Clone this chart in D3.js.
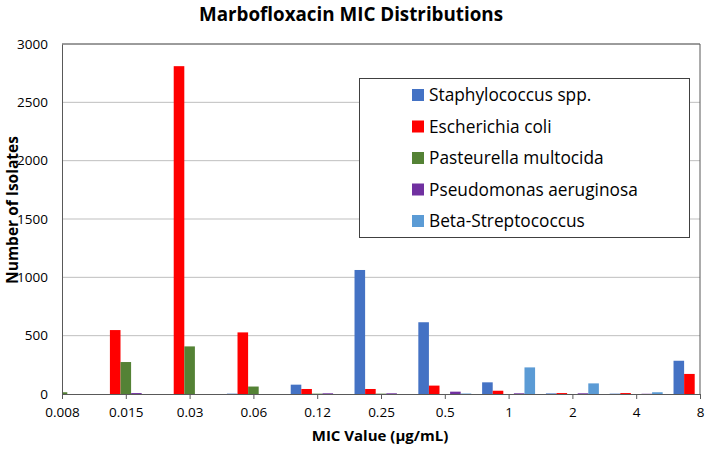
<!DOCTYPE html>
<html>
<head>
<meta charset="utf-8">
<script src="https://cdn.jsdelivr.net/npm/d3@7"></script>
<style>
  body { margin: 0; background: #fff; }
  svg { display: block; font-family: "Open Sans", sans-serif; }
</style>
</head>
<body>
<svg id="chart" width="709" height="449"></svg>
<script>
const categories = ["0.008", "0.015", "0.03", "0.06", "0.12", "0.25", "0.5", "1", "2", "4", "8"];
const seriesNames = ["Staphylococcus spp.", "Escherichia coli", "Pasteurella multocida", "Pseudomonas aeruginosa", "Beta-Streptococcus"];
const staphylococcus = [0, 0, 0, 3, 80, 1063, 615, 100, 5, 3, 285];
const escherichia = [0, 548, 2810, 528, 43, 43, 72, 28, 8, 8, 172];
const pasteurella = [15, 274, 408, 64, 3, 3, 0, 0, 0, 0, 0];
const pseudomonas = [0, 8, 0, 0, 6, 6, 20, 6, 6, 2, 0];
const betaStrep = [0, 0, 0, 0, 0, 0, 4, 228, 91, 15, 0];
const yTicks = [0, 500, 1000, 1500, 2000, 2500, 3000];
const colors = ["#4472C4", "#FF0000", "#548235", "#7030A0", "#5B9BD5"];

const seriesValues = [staphylococcus, escherichia, pasteurella, pseudomonas, betaStrep];

const svg = d3.select("#chart");
const L = 62, R = 700, T = 44, B = 394;
const step = (R - L) / (categories.length - 1);

const x0 = d3.scaleBand()
  .domain(categories)
  .range([L - step / 2, R + step / 2])
  .paddingInner(0.17)
  .paddingOuter(0.085);
const x1 = d3.scaleBand()
  .domain(seriesNames)
  .range([0, x0.bandwidth()]);
const y = d3.scaleLinear().domain([0, 3000]).range([B, T]);

// clip
svg.append("defs").append("clipPath").attr("id", "plotclip")
  .append("rect").attr("x", L).attr("y", T - 1).attr("width", R - L).attr("height", B - T + 2);

// gridlines
svg.append("g")
  .selectAll("line")
  .data(yTicks.filter(d => d > 0))
  .join("line")
  .attr("x1", L).attr("x2", R)
  .attr("y1", d => y(d)).attr("y2", d => y(d))
  .attr("stroke", "#BFBFBF").attr("stroke-width", 1);

// bars
const bars = svg.append("g").attr("clip-path", "url(#plotclip)");
seriesNames.forEach((name, si) => {
  bars.append("g")
    .selectAll("rect")
    .data(categories.map((c, i) => ({ c, v: seriesValues[si][i] })))
    .join("rect")
    .attr("x", d => x0(d.c) + x1(name))
    .attr("width", x1.bandwidth())
    .attr("y", d => y(d.v))
    .attr("height", d => B - y(d.v))
    .attr("fill", colors[si]);
});

// plot border (top/right)
svg.append("line").attr("x1", L).attr("x2", R).attr("y1", T).attr("y2", T).attr("stroke", "#595959");
svg.append("line").attr("x1", R).attr("x2", R).attr("y1", T).attr("y2", B).attr("stroke", "#595959");

// y axis
const yAxis = d3.axisLeft(y).tickValues(yTicks).tickSize(0).tickPadding(14).tickFormat(d3.format("d"));
const gy = svg.append("g").attr("transform", `translate(${L},0)`).call(yAxis);
gy.select(".domain").attr("stroke", "#595959");
gy.selectAll("text").attr("font-size", 13.5).attr("fill", "#000").attr("font-family", "Open Sans");

// x axis (ticks at category centers)
const xPoint = d3.scalePoint().domain(categories).range([L, R]);
const xAxis = d3.axisBottom(xPoint).tickSize(5).tickPadding(8);
const gx = svg.append("g").attr("transform", `translate(0,${B})`).call(xAxis);
gx.select(".domain").attr("stroke", "#595959");
gx.selectAll(".tick line").attr("stroke", "#595959");
gx.selectAll("text").attr("font-size", 13.5).attr("fill", "#000").attr("font-family", "Open Sans");

// titles
svg.append("text").attr("x", 351).attr("y", 21).attr("text-anchor", "middle")
  .attr("font-size", 18.8).attr("font-weight", "bold").text("Marbofloxacin MIC Distributions");
svg.append("text").attr("x", 380).attr("y", 441).attr("text-anchor", "middle")
  .attr("font-size", 15).attr("font-weight", "bold").text("MIC Value (µg/mL)");
svg.append("text").attr("transform", "translate(18,210) rotate(-90)").attr("text-anchor", "middle")
  .attr("font-size", 15.5).attr("font-weight", "bold").text("Number of Isolates");

// legend
const lg = svg.append("g");
lg.append("rect").attr("x", 359.5).attr("y", 78.5).attr("width", 330).attr("height", 159)
  .attr("fill", "#fff").attr("stroke", "#404040").attr("stroke-width", 1);
const items = lg.selectAll("g.item").data(seriesNames).join("g").attr("class", "item")
  .attr("transform", (d, i) => `translate(412,${95 + i * 31.5})`);
items.append("rect").attr("x", 0).attr("y", -6).attr("width", 12).attr("height", 12)
  .attr("fill", (d, i) => colors[i]);
items.append("text").attr("x", 17).attr("y", 0).attr("dy", "0.36em")
  .attr("font-size", 17.3).attr("fill", "#000").text(d => d);
</script>
</body>
</html>
